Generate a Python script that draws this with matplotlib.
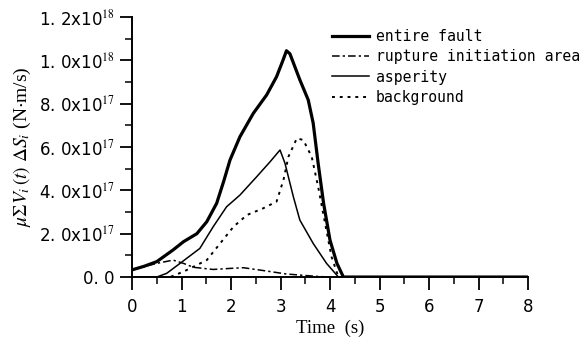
import matplotlib
matplotlib.use("Agg")
import matplotlib.pyplot as plt
from matplotlib.ticker import FixedLocator, MultipleLocator, FixedFormatter

# values (y in units of 1e18 N·m/s)
t_entire = [0, 0.25, 0.5, 0.83, 1.04, 1.31, 1.51, 1.71, 1.85, 1.98, 2.18, 2.45, 2.72, 2.92, 3.05, 3.12, 3.19, 3.39, 3.56, 3.66, 3.76, 3.87, 4.0, 4.14, 4.27, 8.0]
y_entire = [0.033, 0.05, 0.071, 0.125, 0.163, 0.2, 0.255, 0.34, 0.44, 0.54, 0.647, 0.755, 0.84, 0.924, 1.0, 1.044, 1.03, 0.91, 0.817, 0.71, 0.525, 0.34, 0.17, 0.063, 0.0, 0.0]

t_init = [0, 0.25, 0.5, 0.83, 1.04, 1.24, 1.64, 2.0, 2.25, 2.65, 3.12, 3.73, 4.0, 8.0]
y_init = [0.033, 0.048, 0.063, 0.078, 0.063, 0.045, 0.035, 0.04, 0.043, 0.03, 0.014, 0.003, 0.0, 0.0]

t_asp = [0, 0.5, 0.7, 0.97, 1.37, 1.64, 1.91, 2.18, 2.52, 2.79, 2.99, 3.09, 3.26, 3.39, 3.66, 3.93, 4.17, 8.0]
y_asp = [0.0, 0.0, 0.017, 0.063, 0.132, 0.232, 0.324, 0.378, 0.463, 0.532, 0.586, 0.525, 0.37, 0.263, 0.155, 0.063, 0.0, 0.0]

t_bg = [0, 0.77, 1.04, 1.51, 1.78, 2.05, 2.32, 2.65, 2.92, 3.06, 3.16, 3.33, 3.46, 3.63, 3.76, 3.9, 4.03, 4.17, 8.0]
y_bg = [0.0, 0.0, 0.025, 0.078, 0.155, 0.232, 0.286, 0.317, 0.348, 0.448, 0.555, 0.64, 0.632, 0.555, 0.417, 0.248, 0.094, 0.0, 0.0]

y_ticks = [0.0, 0.2, 0.4, 0.6, 0.8, 1.0, 1.2]
y_labels = ["0. 0", r"2. 0x10$^{17}$", r"4. 0x10$^{17}$", r"6. 0x10$^{17}$",
            r"8. 0x10$^{17}$", r"1. 0x10$^{18}$", r"1. 2x10$^{18}$"]

plt.rcParams["mathtext.fontset"] = "stix"

fig = plt.figure(figsize=(5.88, 3.45), dpi=100)
ax = fig.add_axes([0.2245, 0.197, 0.6735, 0.754])

ax.plot(t_entire, y_entire, color="black", lw=2.3, label="entire fault")
ax.plot(t_init, y_init, color="black", lw=1.1, ls=(0, (5, 2, 1.5, 2)), label="rupture initiation area")
ax.plot(t_asp, y_asp, color="black", lw=1.1, label="asperity")
ax.plot(t_bg, y_bg, color="black", lw=1.4, ls=(0, (1.5, 2.5)), label="background")

ax.set_xlim(0, 8)
ax.set_ylim(0, 1.2)
ax.spines["top"].set_visible(False)
ax.spines["right"].set_visible(False)
for s in ("left", "bottom"):
    ax.spines[s].set_linewidth(1.4)

ax.xaxis.set_major_locator(MultipleLocator(1))
ax.xaxis.set_minor_locator(MultipleLocator(0.5))
ax.yaxis.set_major_locator(FixedLocator(y_ticks))
ax.yaxis.set_major_formatter(FixedFormatter(y_labels))
ax.yaxis.set_minor_locator(MultipleLocator(0.1))
ax.tick_params(which="major", length=9, width=1.3, labelsize=12, direction="out")
ax.tick_params(which="minor", length=5, width=1.1, direction="out")
ax.tick_params(axis="x", pad=6)

ax.set_xlabel("Time  (s)", family="Liberation Serif", fontsize=13.5, labelpad=3)
ax.set_ylabel(r"$\mu\Sigma V_i\,(t)\ \Delta S_i$ (N$\cdot$m/s)", family="Liberation Serif", fontsize=14, labelpad=4)

ax.legend(loc="upper left", bbox_to_anchor=(0.49, 0.975), frameon=False,
          prop={"family": "DejaVu Sans Mono", "size": 10.6},
          handlelength=2.5, handletextpad=0.5, labelspacing=0.35, borderaxespad=0.0)

fig.savefig("out.png", dpi=100)
